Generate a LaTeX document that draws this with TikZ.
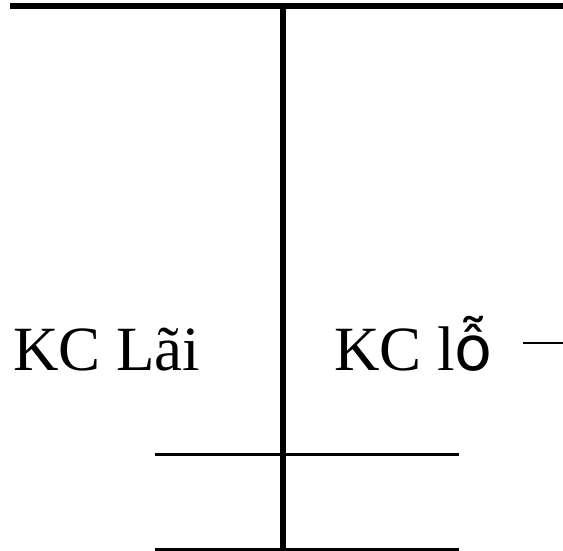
\documentclass[tikz,border=0pt]{standalone}
\usepackage{fontspec}
\setmainfont{Liberation Serif}
\newfontfamily\fallbackfont{DejaVu Sans}
\begin{document}
\begin{tikzpicture}[x=1pt,y=-1pt,
    thickline/.style={line width=6pt},
    thinline/.style={line width=3pt},
    label/.style={font=\fontsize{63}{70}\selectfont,inner sep=0pt,anchor=base west}]
            \useasboundingbox (0,0) rectangle (563,551);
            % Assi
            \draw[thickline,line width=6.5pt] (10,6) -- (563,6);
            \draw[thickline] (283,3) -- (283,551);
            % Righe
            \draw[thinline] (155,454) -- (459,454);
            \draw[thinline] (155,549) -- (459,549);
            \draw[line width=2pt] (523,343) -- (563,343);
            % Testi
            \node[label] (lai) at (13,370) {KC Lãi};
            \node[label] (lo) at (334,370) {KC l{\fallbackfont\fontsize{62}{70}\selectfont ỗ}};
        \end{tikzpicture}
\end{document}
